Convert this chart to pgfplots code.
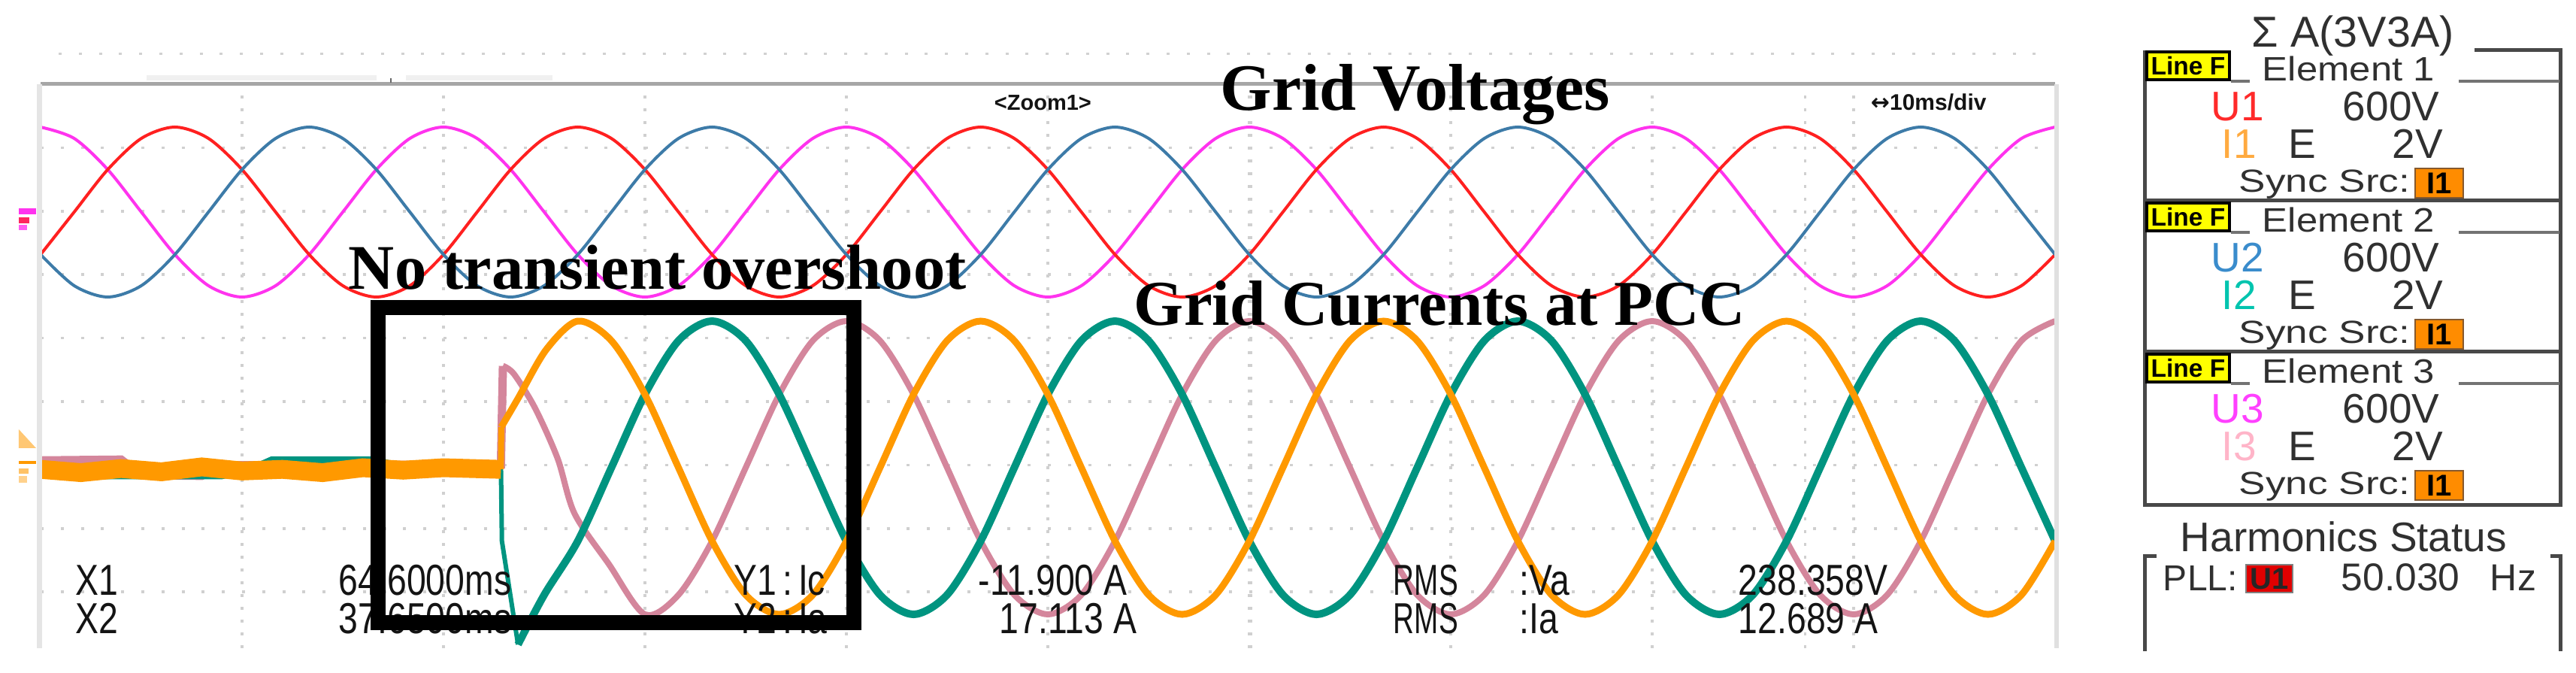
\documentclass[border=0pt]{standalone}
\usepackage{fontspec}
\setmainfont{Liberation Serif}
\newfontfamily\scopefont{Liberation Sans}
\newfontfamily\symfont{DejaVu Sans}
\usepackage{graphicx}
\usepackage{pgfplots}
\pgfplotsset{compat=1.18}
\usepackage{pgfplotstable}

\definecolor{uR}{HTML}{FF2020}
\definecolor{uB}{HTML}{3D7BA8}
\definecolor{uM}{HTML}{FF33EE}
\definecolor{iO}{HTML}{FF9900}
\definecolor{iT}{HTML}{009480}
\definecolor{iP}{HTML}{D4869C}
\definecolor{gridc}{HTML}{D0D0D0}
\definecolor{txt}{HTML}{141414}
\definecolor{pan}{HTML}{303030}
\definecolor{panline}{HTML}{484848}
\definecolor{lineF}{HTML}{FFFF00}
\definecolor{srcbox}{HTML}{FF8C00}
\definecolor{pllbox}{HTML}{E00000}
\definecolor{pU1}{HTML}{FF2A2A}
\definecolor{pI1}{HTML}{FFAA40}
\definecolor{pU2}{HTML}{3A8CCC}
\definecolor{pI2}{HTML}{00C4AE}
\definecolor{pU3}{HTML}{FF40FF}
\definecolor{pI3}{HTML}{FFB4C8}

% grid voltages, V (t in ms)
\pgfplotstableread{
t u1 u2 u3
0 -168.5 -168.5 337
1.667 0 -292 292
3.333 168.5 -337 168.5
5 292 -292 0
6.667 337 -168.5 -168.5
8.333 292 0 -292
10 168.5 168.5 -337
11.667 0 292 -292
13.333 -168.5 337 -168.5
15 -292 292 0
16.667 -337 168.5 168.5
18.333 -292 0 292
20 -168.5 -168.5 337
21.667 0 -292 292
23.333 168.5 -337 168.5
25 292 -292 0
26.667 337 -168.5 -168.5
28.333 292 0 -292
30 168.5 168.5 -337
31.667 0 292 -292
33.333 -168.5 337 -168.5
35 -292 292 0
36.667 -337 168.5 168.5
38.333 -292 0 292
40 -168.5 -168.5 337
41.667 0 -292 292
43.333 168.5 -337 168.5
45 292 -292 0
46.667 337 -168.5 -168.5
48.333 292 0 -292
50 168.5 168.5 -337
51.667 0 292 -292
53.333 -168.5 337 -168.5
55 -292 292 0
56.667 -337 168.5 168.5
58.333 -292 0 292
60 -168.5 -168.5 337
61.667 0 -292 292
63.333 168.5 -337 168.5
65 292 -292 0
66.667 337 -168.5 -168.5
68.333 292 0 -292
70 168.5 168.5 -337
71.667 0 292 -292
73.333 -168.5 337 -168.5
75 -292 292 0
76.667 -337 168.5 168.5
78.333 -292 0 292
80 -168.5 -168.5 337
81.667 0 -292 292
83.333 168.5 -337 168.5
85 292 -292 0
86.667 337 -168.5 -168.5
88.333 292 0 -292
90 168.5 168.5 -337
91.667 0 292 -292
93.333 -168.5 337 -168.5
95 -292 292 0
96.667 -337 168.5 168.5
98.333 -292 0 292
100 -168.5 -168.5 337
}\vtab

\pgfplotsset{scopeax/.style={at={(10.8pt,6.6pt)},anchor=south west,
  width=536pt,height=150pt,scale only axis,xmin=0,xmax=100}}

\newcommand{\ro}[1]{\scalebox{0.9}[1.12]{#1}}

\begin{document}
\begin{tikzpicture}
\useasboundingbox (0,0) rectangle (685.4pt,179pt);

% screen grid and cursors
\begin{axis}[scopeax,ymin=-8.886,ymax=0,
  xtick={10,20,...,90},ytick={-8,-7,...,-1},
  xticklabels={},yticklabels={},
  major tick length=0pt,axis line style={draw=none},
  xmajorgrids,ymajorgrids,
  x grid style={gridc,line width=0.7pt,dash pattern=on 0.7pt off 2.7pt},
  y grid style={gridc,line width=0.7pt,dash pattern=on 0.8pt off 4.56pt},
  extra x ticks={60.07,87.6},extra x tick labels={},
  extra x tick style={grid=major,major grid style={black!60,line width=0.7pt,dash pattern=on 2.6pt off 1pt}}]
\end{axis}

% voltages
\begin{axis}[scopeax,hide axis,ymin=-1729.6,ymax=507]
\addplot[uM,line width=0.8pt,smooth] table[x=t,y=u3] {\vtab};
\addplot[uR,line width=0.8pt,smooth] table[x=t,y=u1] {\vtab};
\addplot[uB,line width=0.8pt,smooth] table[x=t,y=u2] {\vtab};
\end{axis}

% currents, A
\begin{axis}[scopeax,hide axis,ymin=-22.15,ymax=47.08]
% before the converter is connected
\addplot[iP,line width=2.2pt] coordinates {(0,0.9) (4,1) (5,-0.9) (8,-1) (9,0.3) (22.85,0.4) (22.95,12.5)};
\addplot[iT,line width=2.2pt] coordinates {(0,-0.3) (3,-0.9) (9,-0.9) (10.5,-0.2) (11.5,0.9) (16.5,0.9) (17.5,0.3) (22.85,0.4)};
\addplot[iT,line width=1.2pt] coordinates {(22.85,0.4) (22.9,-9) (23.7,-21.7)};
\addplot[iO,line width=5pt] coordinates {(0,-0.2) (2,-0.6) (4,-0.1) (6,-0.5) (8,0.1) (10,-0.4) (12,-0.2) (14,-0.6) (16,0) (18,-0.3) (20,0) (22.85,-0.2)};
\addplot[iO,line width=1.6pt] coordinates {(22.85,-0.2) (22.87,5)};
% after connection
\addplot[iP,line width=1.6pt,smooth] coordinates {
(22.95,12.5) (23.5,11.5) (24.55,7.3) (25.67,1.1) (26.5,-5.6) (28.2,-11.8)
(30,-18) (31.667,-15.6) (33.333,-9) (35,0) (36.667,9) (38.333,15.6) (40,18) (41.667,15.6) (43.333,9) (45,0) (46.667,-9) (48.333,-15.6)
(50,-18) (51.667,-15.6) (53.333,-9) (55,0) (56.667,9) (58.333,15.6) (60,18) (61.667,15.6) (63.333,9) (65,0) (66.667,-9) (68.333,-15.6)
(70,-18) (71.667,-15.6) (73.333,-9) (75,0) (76.667,9) (78.333,15.6) (80,18) (81.667,15.6) (83.333,9) (85,0) (86.667,-9) (88.333,-15.6)
(90,-18) (91.667,-15.6) (93.333,-9) (95,0) (96.667,9) (98.333,15.6) (100,18)};
\addplot[iT,line width=2pt,smooth] coordinates {
(23.7,-21.7) (25,-15.6) (26.667,-9) (28.333,0) (30,9) (31.667,15.6) (33.333,18) (35,15.6) (36.667,9) (38.333,0)
(40,-9) (41.667,-15.6) (43.333,-18) (45,-15.6) (46.667,-9) (48.333,0) (50,9) (51.667,15.6) (53.333,18) (55,15.6) (56.667,9) (58.333,0)
(60,-9) (61.667,-15.6) (63.333,-18) (65,-15.6) (66.667,-9) (68.333,0) (70,9) (71.667,15.6) (73.333,18) (75,15.6) (76.667,9) (78.333,0)
(80,-9) (81.667,-15.6) (83.333,-18) (85,-15.6) (86.667,-9) (88.333,0) (90,9) (91.667,15.6) (93.333,18) (95,15.6) (96.667,9) (98.333,0) (100,-9)};
\addplot[iO,line width=1.8pt,smooth] coordinates {
(22.87,5) (23.7,8.5) (25.1,14.5)
(26.667,18) (28.333,15.6) (30,9) (31.667,0) (33.333,-9) (35,-15.6) (36.667,-18) (38.333,-15.6) (40,-9) (41.667,0) (43.333,9) (45,15.6)
(46.667,18) (48.333,15.6) (50,9) (51.667,0) (53.333,-9) (55,-15.6) (56.667,-18) (58.333,-15.6) (60,-9) (61.667,0) (63.333,9) (65,15.6)
(66.667,18) (68.333,15.6) (70,9) (71.667,0) (73.333,-9) (75,-15.6) (76.667,-18) (78.333,-15.6) (80,-9) (81.667,0) (83.333,9) (85,15.6)
(86.667,18) (88.333,15.6) (90,9) (91.667,0) (93.333,-9) (95,-15.6) (96.667,-18) (98.333,-15.6) (100,-9)};
\end{axis}

% everything else in pixel units of the 3427x895 screenshot
\begin{scope}[x=0.2pt,y=-0.2pt,yshift=179pt]
% scope frame
\draw[line width=1pt,black!35] (54,112) -- (2734,112);
\draw[line width=1.4pt,black!10] (53,112) -- (53,862);
\draw[line width=1.2pt,black!12] (2736,112) -- (2736,862);
\draw[line width=0.6pt,black!18,dash pattern=on 0.8pt off 4.56pt] (78,72) -- (2710,72);
\fill[black!6] (195,100) rectangle (501,107);
\fill[black!6] (540,100) rectangle (735,107);
\draw[line width=0.5pt,black!60] (520,104) -- (520,110);
% channel markers
\fill[uM] (25,277) rectangle (48,285);
\fill[uR!70!uM] (25,289) rectangle (39,297);
\fill[uM!80] (25,299) rectangle (36,306);
\fill[iO!55] (25,571) -- (25,596) -- (48,596) -- cycle;
\fill[iO] (25,613) rectangle (48,617);
\fill[iO!60] (25,623) rectangle (38,630);
\fill[iO!45] (25,633) rectangle (36,642);

% scope readouts
\begin{scope}[every node/.style={anchor=base west,inner sep=0pt,txt,font=\scopefont\fontsize{10.3}{11}\selectfont}]
\node at (100,792) {\ro{X1}};
\node at (450,792) {\ro{64.6000ms}};
\node at (976,792) {\ro{Y1\,:\,Ic}};
\node at (1301,792) {\ro{-11.900 A}};
\node at (1853,792) {\scalebox{0.75}[1.12]{RMS}};
\node at (2021,792) {\ro{:Va}};
\node at (2312,792) {\ro{238.358V}};
\node at (100,843) {\ro{X2}};
\node at (450,843) {\ro{37.6500ms}};
\node at (976,843) {\ro{Y2\,:\,Ia}};
\node at (1329,843) {\ro{17.113 A}};
\node at (1853,843) {\scalebox{0.75}[1.12]{RMS}};
\node at (2021,843) {\ro{:Ia}};
\node at (2312,843) {\ro{12.689 A}};
\node[font=\scopefont\bfseries\fontsize{5.8}{6}\selectfont] at (1322,147) {<Zoom1>};
\node[font=\scopefont\bfseries\fontsize{6}{6}\selectfont] at (2488,147) {{\symfont ↔}10ms/div};
\end{scope}

% annotations
\draw[line width=4pt] (503,409) rectangle (1136,828);
\node[anchor=base west,inner sep=0pt,font=\bfseries\fontsize{16.9}{17}\selectfont] at (463,385) {No transient overshoot};
\node[anchor=base west,inner sep=0pt,font=\bfseries\fontsize{17.6}{18}\selectfont] at (1623,147) {Grid Voltages};
\node[anchor=base west,inner sep=0pt,font=\bfseries\fontsize{17}{17}\selectfont] at (1508,433) {Grid Currents at PCC};

% instrument side panel
\begin{scope}[every node/.style={anchor=base west,inner sep=0pt,pan,font=\scopefont\fontsize{11}{11}\selectfont}]
\node[font=\scopefont\fontsize{11.5}{12}\selectfont] at (2995,63) {Σ A(3V3A)};
\draw[line width=1pt,panline] (3292,67) -- (3407,67) -- (3407,672) -- (2854,672) -- (2854,67);
\draw[line width=1pt,panline] (2854,267) -- (3407,267);
\draw[line width=1pt,panline] (2854,468) -- (3407,468);
\foreach \k/\n/\uc/\ic in {0/1/pU1/pI1,1/2/pU2/pI2,2/3/pU3/pI3}{
  \begin{scope}[yshift=-\k*40.2pt]
  \draw[line width=0.8pt,black,fill=lineF] (2856,69) rectangle (2966,106);
  \node[anchor=center,black,font=\scopefont\bfseries\fontsize{6.7}{7}\selectfont] at (2911,88) {Line F};
  \draw[line width=0.7pt,black!55] (2968,108) -- (2993,108);
  \draw[line width=0.7pt,black!55] (3271,108) -- (3405,108);
  \node at (3009,108) {\scalebox{1.13}[1]{\fontsize{9}{9}\selectfont Element \n}};
  \node[\uc] at (2941,161) {U\n};
  \node at (3116,161) {600V};
  \node[\ic] at (2955,211) {I\n};
  \node at (3044,211) {E};
  \node at (3182,211) {2V};
  \node at (2978,256) {\scalebox{1.25}[1]{\fontsize{8.5}{9}\selectfont Sync Src:}};
  \draw[line width=0.5pt,brown!70!black,fill=srcbox] (3213,224) rectangle (3277,263);
  \node[anchor=center,black,font=\scopefont\bfseries\fontsize{8}{8}\selectfont] at (3245,244) {I1};
  \end{scope}
}
\node at (2900,734) {Harmonics Status};
\draw[line width=1pt,panline] (2869,740) -- (2854,740) -- (2854,866);
\draw[line width=1pt,panline] (3393,740) -- (3407,740) -- (3407,866);
\node[font=\scopefont\fontsize{9.6}{10}\selectfont] at (2877,786) {PLL:};
\draw[line width=0.5pt,black!50,fill=pllbox] (2988,751) rectangle (3050,788);
\node[anchor=center,black!85,font=\scopefont\bfseries\fontsize{8}{8}\selectfont] at (3019,770) {U1};
\node[font=\scopefont\fontsize{10.3}{11}\selectfont] at (3114,786) {50.030};
\node[font=\scopefont\fontsize{10}{10}\selectfont] at (3312,786) {Hz};
\end{scope}
\end{scope}
\end{tikzpicture}
\end{document}
